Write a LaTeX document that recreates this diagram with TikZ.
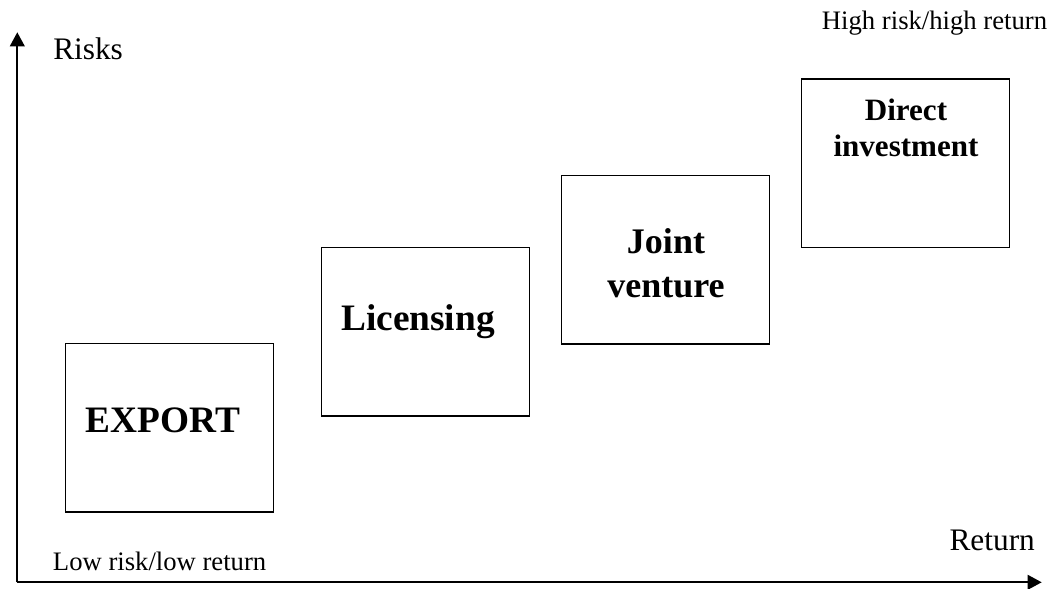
\documentclass[tikz,border=0pt]{standalone}
\usepackage{fontspec}
\setmainfont{Liberation Serif}
\usetikzlibrary{arrows.meta}

\begin{document}
\begin{tikzpicture}[x=0.75pt, y=-0.75pt, block/.style={rectangle, draw, line width=1pt, minimum width=156pt, minimum height=126.5pt, inner sep=0pt}, blocktext/.style={inner sep=0pt, anchor=base, align=center, font=\bfseries\fontsize{28}{33}\selectfont}, axlabel/.style={inner sep=0pt, anchor=base west}, axis/.style={line width=1.3pt, -{Triangle[length=10.5pt, width=11pt]}}]
  \useasboundingbox (0,0) rectangle (1054,589);
  {
  \coordinate (origin) at (17.3,582.3);
  \coordinate (risktop) at (17.3,32.3);
  \coordinate (returnend) at (1041.7,582.3);

  \node[block] (export) at (169.3,427.7) {};
  \node[block] (lic) at (425.7,331.5) {};
  \node[block] (jv) at (665.5,259.5) {};
  \node[block] (direct) at (905.8,163.3) {};

  \node[blocktext] (exporttext) at (163,432.7) {EXPORT};
  \node[blocktext] (lictext) at (418,330.7) {Licensing};
  \node[blocktext, font=\bfseries\fontsize{27}{32.5}\selectfont] (jvtext) at (666,297.3) {Joint\\venture};
  \node[blocktext, font=\bfseries\fontsize{23.3}{27.5}\selectfont] (directtext) at (906,156.7) {Direct\\investment};

  \node[axlabel, font=\fontsize{23.5}{28}\selectfont] (risks) at (53,59.3) {Risks};
  \node[axlabel, font=\fontsize{23.5}{28}\selectfont] (return) at (949.3,550) {Return};
  \node[axlabel, font=\fontsize{20}{24}\selectfont] (high) at (821.7,29.3) {High risk/high return};
  \node[axlabel, font=\fontsize{20}{24}\selectfont] (low) at (52.7,570) {Low risk/low return};

  \draw[axis] (origin) -- (risktop);
  \draw[axis] (origin) -- (returnend);
  }
\end{tikzpicture}
\end{document}
